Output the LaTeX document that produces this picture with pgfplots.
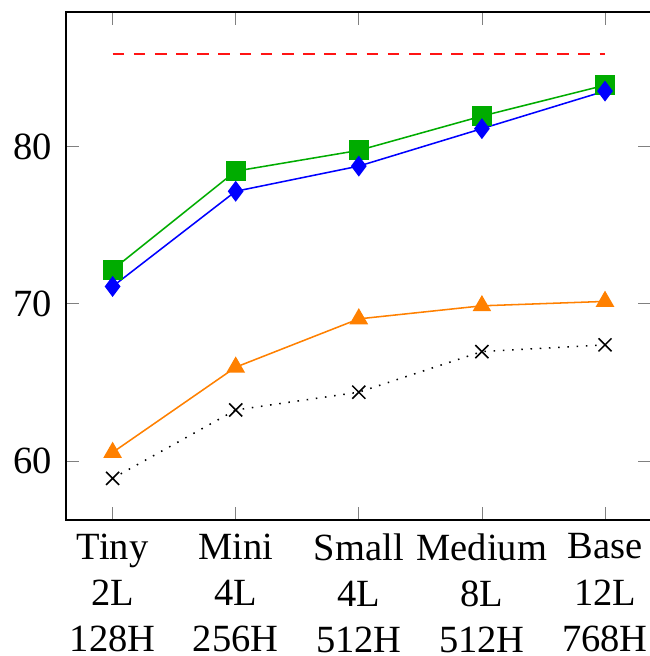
\documentclass[border=0pt]{standalone}
\usepackage{fontspec}
\setmainfont{Liberation Serif}
\usepackage{pgfplots}
\pgfplotsset{compat=1.18}
\definecolor{mygreen}{RGB}{0,172,0}
\definecolor{myorange}{RGB}{255,128,0}
\definecolor{myred}{RGB}{255,20,20}
\begin{document}
\begin{tikzpicture}
\begin{axis}[
  name=ax,
  scale only axis,
  width=152.2pt, height=132pt,
  xmin=-0.38, xmax=4.38,
  ymin=56.25, ymax=88.55,
  xtick={0,1,2,3,4},
  xticklabels={{Tiny\\2L\\128H},{Mini\\4L\\256H},{Small\\4L\\512H},{Medium\\8L\\512H},{Base\\12L\\768H}},
  xticklabel style={align=center},
  ytick={60,70,80},
  major tick length=3.5pt,
  /pgf/number format/assume math mode=true,
  mark size=2.4pt,
]
\addplot[myred, line width=0.5pt, dash pattern=on 3pt off 2.5pt, no marks] coordinates {(0,85.9) (4,85.9)};
\addplot[black, dotted, mark=x, mark options={solid}] coordinates {(0,58.9) (1,63.25) (2,64.38) (3,66.96) (4,67.39)};
\addplot[myorange, mark=triangle*] coordinates {(0,60.55) (1,65.97) (2,69.04) (3,69.87) (4,70.15)};
\addplot[mygreen, mark=square*] coordinates {(0,72.17) (1,78.43) (2,79.75) (3,81.93) (4,83.89)};
\addplot[blue, mark=diamond*] coordinates {(0,71.1) (1,77.15) (2,78.75) (3,81.13) (4,83.52)};
\end{axis}
\pgfresetboundingbox
\path[use as bounding box] ([xshift=-17.1pt,yshift=-35.3pt]ax.south west) rectangle ([xshift=-0.5pt,yshift=3.1pt]ax.north east);
\end{tikzpicture}
\end{document}
